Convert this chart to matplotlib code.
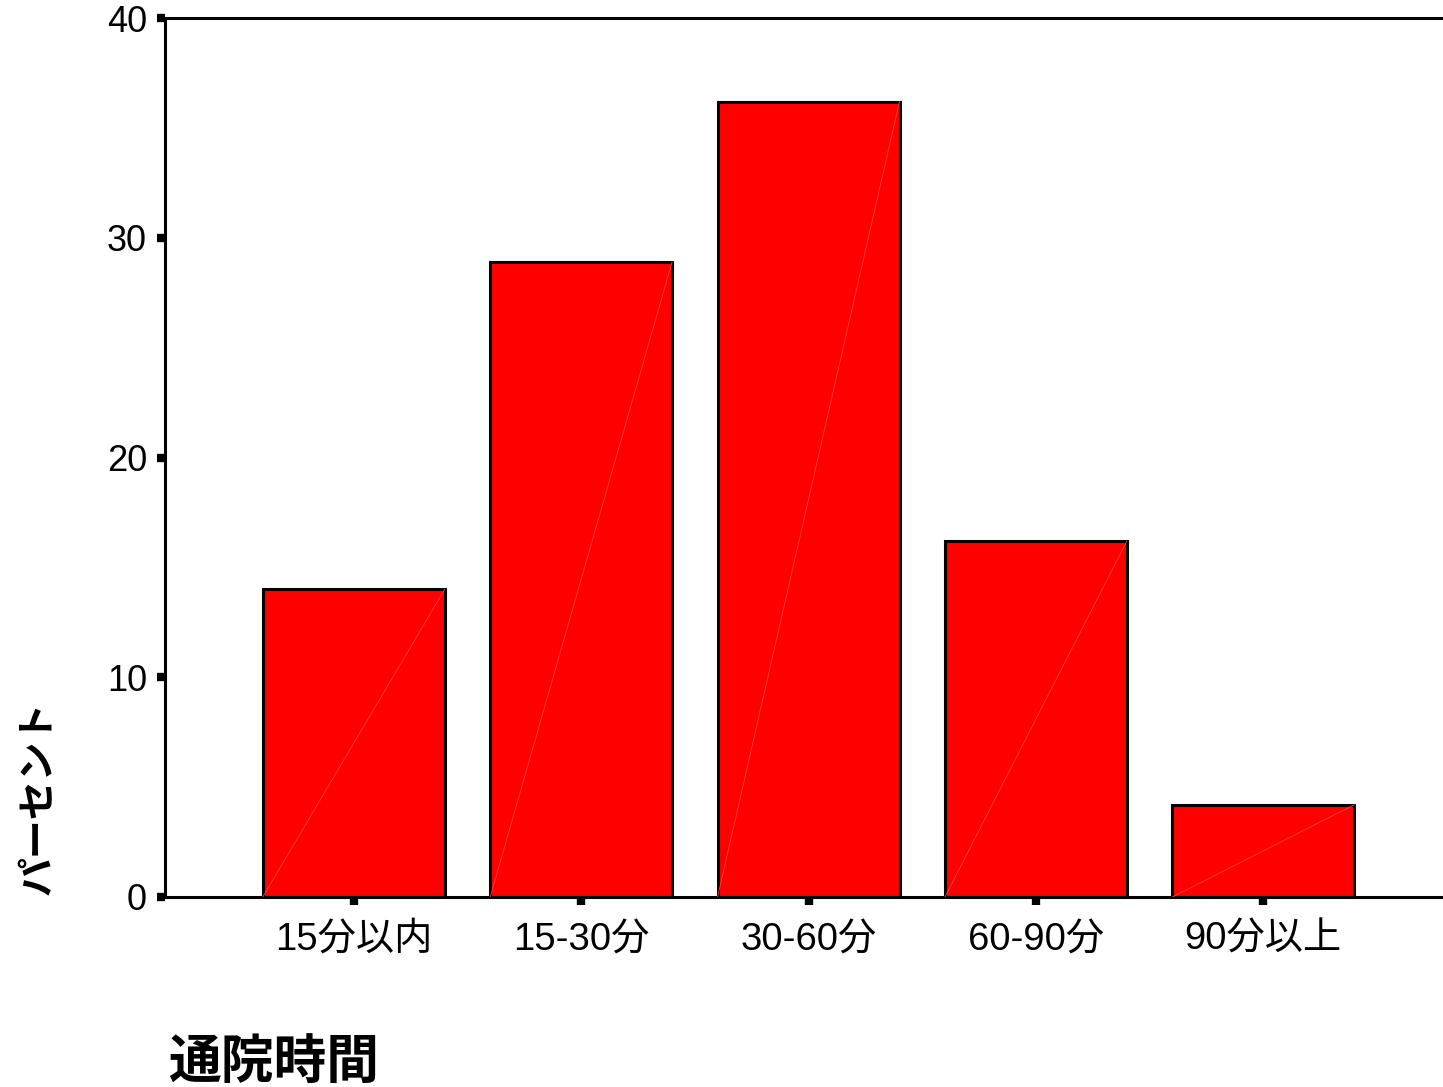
import numpy as np
import matplotlib
matplotlib.use("Agg")
from matplotlib import pyplot as plt

plt.rcParams['font.family'] = ['Liberation Sans', 'Noto Sans CJK JP', 'DejaVu Sans']

categories = ['15分以内', '15-30分', '30-60分', '60-90分', '90分以上']
percent = [14.0, 28.9, 36.2, 16.2, 4.2]
y_ticks = [0, 10, 20, 30, 40]

fig = plt.figure(figsize=(14.43, 10.87), dpi=100)
ax = fig.add_axes([165 / 1443, 1 - 897 / 1087, 1 - 165 / 1443, (897 - 18) / 1087])

x = np.arange(len(categories))
bars = ax.bar(x, percent, width=0.8, color='#ff0000', edgecolor='black', linewidth=2.2, zorder=2)

# faint diagonal seen inside each bar
for b in bars:
    x0 = b.get_x()
    ax.plot([x0, x0 + b.get_width()], [0, b.get_height()], color='#ff4040', lw=0.6, zorder=3)

ax.set_xlim(-0.83, 4.79)
ax.set_ylim(0, 40)
ax.set_xticks(x)
ax.set_xticklabels(categories, fontsize=27.5)
ax.set_yticks(y_ticks)
ax.set_yticklabels([str(t) for t in y_ticks], fontsize=26)
ax.tick_params(axis='both', direction='out', length=6, width=6, color='black')
ax.tick_params(axis='x', pad=12)
ax.tick_params(axis='y', pad=7)

ax.spines['right'].set_visible(False)
for s in ['left', 'top', 'bottom']:
    ax.spines[s].set_linewidth(2.2)

fig.text(168 / 1443, 1 - 1064 / 1087, '通院時間', fontsize=38, fontweight='bold',
         ha='left', va='center')
fig.text(40 / 1443, 1 - 895 / 1087, 'パーセント', fontsize=28, fontweight='bold',
         rotation=90, ha='center', va='bottom')

fig.savefig('out.png', dpi=100)
